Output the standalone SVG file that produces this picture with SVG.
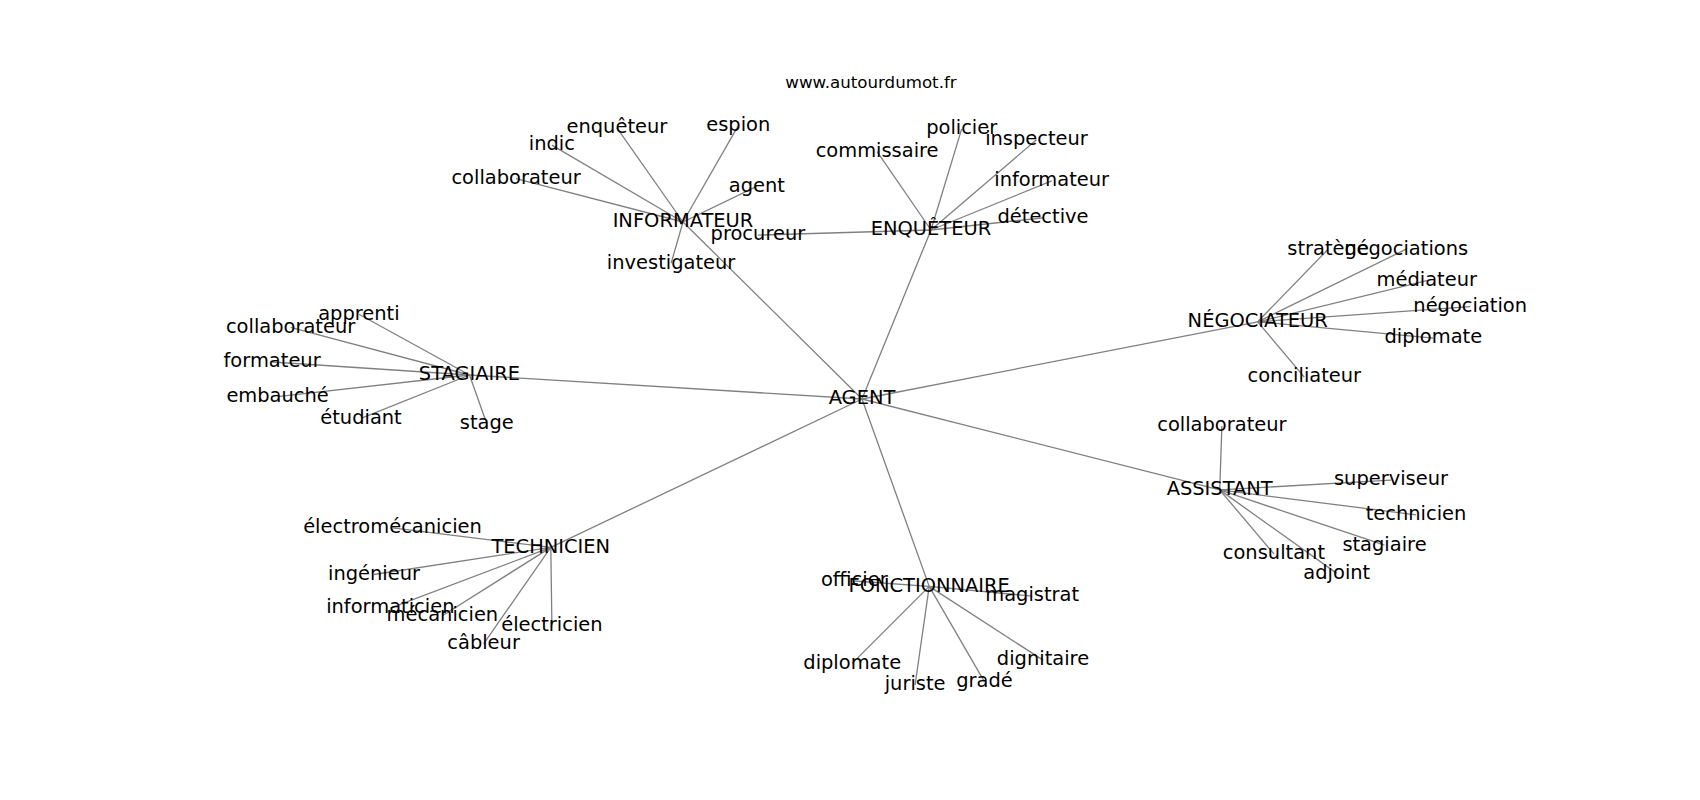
<svg xmlns="http://www.w3.org/2000/svg" width="1700" height="800" viewBox="0 0 1700 800">
<style>
  text { font-family: "DejaVu Sans", "Noto Sans", sans-serif; fill: #000; text-anchor: middle; }
  .lbl { font-size: 19.44px; }
  .title { font-size: 16.67px; }
  .edges line { stroke: #808080; stroke-width: 1.3; fill: none; }
</style>
<rect width="1700" height="800" fill="#fff"/>
<text class="title" x="871" y="88">www.autourdumot.fr</text>
<g id="connectors" class="edges">
  <line x1="862" y1="399" x2="683" y2="222"/>
  <line x1="862" y1="399" x2="931" y2="230"/>
  <line x1="862" y1="399" x2="469.5" y2="375"/>
  <line x1="862" y1="399" x2="1257.7" y2="321.8"/>
  <line x1="862" y1="399" x2="1219.7" y2="489.9"/>
  <line x1="862" y1="399" x2="550.8" y2="547.4"/>
  <line x1="862" y1="399" x2="929.2" y2="586.4"/>
  <line x1="683" y1="222" x2="616.9" y2="127.8"/>
  <line x1="683" y1="222" x2="738.3" y2="125.6"/>
  <line x1="683" y1="222" x2="551.9" y2="145.1"/>
  <line x1="683" y1="222" x2="516.1" y2="178.7"/>
  <line x1="683" y1="222" x2="756.8" y2="186.3"/>
  <line x1="683" y1="222" x2="671.1" y2="263.3"/>
  <line x1="931" y1="230" x2="757.9" y2="235.1"/>
  <line x1="931" y1="230" x2="877.1" y2="151.6"/>
  <line x1="931" y1="230" x2="961.7" y2="128.9"/>
  <line x1="931" y1="230" x2="1036.5" y2="139.7"/>
  <line x1="931" y1="230" x2="1051.7" y2="180.9"/>
  <line x1="931" y1="230" x2="1043" y2="217.8"/>
  <line x1="469.5" y1="375" x2="358.9" y2="314.2"/>
  <line x1="469.5" y1="375" x2="290.6" y2="327.3"/>
  <line x1="469.5" y1="375" x2="272.1" y2="362"/>
  <line x1="469.5" y1="375" x2="277.6" y2="396.6"/>
  <line x1="469.5" y1="375" x2="361" y2="418.3"/>
  <line x1="469.5" y1="375" x2="486.8" y2="423.8"/>
  <line x1="1257.7" y1="321.8" x2="1328.1" y2="249.2"/>
  <line x1="1257.7" y1="321.8" x2="1406.2" y2="249.2"/>
  <line x1="1257.7" y1="321.8" x2="1426.8" y2="280.6"/>
  <line x1="1257.7" y1="321.8" x2="1470.2" y2="306.7"/>
  <line x1="1257.7" y1="321.8" x2="1433.3" y2="338.1"/>
  <line x1="1257.7" y1="321.8" x2="1304.3" y2="377.1"/>
  <line x1="1219.7" y1="489.9" x2="1221.9" y2="425.9"/>
  <line x1="1219.7" y1="489.9" x2="1391" y2="480.1"/>
  <line x1="1219.7" y1="489.9" x2="1416" y2="514.8"/>
  <line x1="1219.7" y1="489.9" x2="1384.5" y2="545.2"/>
  <line x1="1219.7" y1="489.9" x2="1273.9" y2="553.9"/>
  <line x1="1219.7" y1="489.9" x2="1336.8" y2="573.4"/>
  <line x1="550.8" y1="547.4" x2="392.5" y2="527.8"/>
  <line x1="550.8" y1="547.4" x2="374" y2="574.5"/>
  <line x1="550.8" y1="547.4" x2="390.3" y2="608.1"/>
  <line x1="550.8" y1="547.4" x2="442.4" y2="615.7"/>
  <line x1="550.8" y1="547.4" x2="551.9" y2="625.4"/>
  <line x1="550.8" y1="547.4" x2="483.6" y2="643.8"/>
  <line x1="929.2" y1="586.4" x2="854.3" y2="581"/>
  <line x1="929.2" y1="586.4" x2="1032.2" y2="596.1"/>
  <line x1="929.2" y1="586.4" x2="852.2" y2="663.4"/>
  <line x1="929.2" y1="586.4" x2="915.1" y2="685"/>
  <line x1="929.2" y1="586.4" x2="984.5" y2="681.8"/>
  <line x1="929.2" y1="586.4" x2="1043" y2="660.1"/>
</g>
<g id="n-agent"><text class="lbl" x="862" y="404.3">AGENT</text></g>
<g id="n-informateur"><text class="lbl" x="683" y="227.4">INFORMATEUR</text></g>
<g id="n-informateur-enqueteur"><text class="lbl" x="616.9" y="133.1">enquêteur</text></g>
<g id="n-informateur-espion"><text class="lbl" x="738.3" y="130.9">espion</text></g>
<g id="n-informateur-indic"><text class="lbl" x="551.9" y="150.4">indic</text></g>
<g id="n-informateur-collaborateur"><text class="lbl" x="516.1" y="184">collaborateur</text></g>
<g id="n-informateur-agent"><text class="lbl" x="756.8" y="191.6">agent</text></g>
<g id="n-informateur-investigateur"><text class="lbl" x="671.1" y="268.6">investigateur</text></g>
<g id="n-enqueteur"><text class="lbl" x="931" y="235.3">ENQUÊTEUR</text></g>
<g id="n-enqueteur-procureur"><text class="lbl" x="757.9" y="240.4">procureur</text></g>
<g id="n-enqueteur-commissaire"><text class="lbl" x="877.1" y="156.9">commissaire</text></g>
<g id="n-enqueteur-policier"><text class="lbl" x="961.7" y="134.2">policier</text></g>
<g id="n-enqueteur-inspecteur"><text class="lbl" x="1036.5" y="145">inspecteur</text></g>
<g id="n-enqueteur-informateur"><text class="lbl" x="1051.7" y="186.2">informateur</text></g>
<g id="n-enqueteur-detective"><text class="lbl" x="1043" y="223.1">détective</text></g>
<g id="n-stagiaire"><text class="lbl" x="469.5" y="380.3">STAGIAIRE</text></g>
<g id="n-stagiaire-apprenti"><text class="lbl" x="358.9" y="319.5">apprenti</text></g>
<g id="n-stagiaire-collaborateur"><text class="lbl" x="290.6" y="332.6">collaborateur</text></g>
<g id="n-stagiaire-formateur"><text class="lbl" x="272.1" y="367.3">formateur</text></g>
<g id="n-stagiaire-embauche"><text class="lbl" x="277.6" y="401.9">embauché</text></g>
<g id="n-stagiaire-etudiant"><text class="lbl" x="361" y="423.6">étudiant</text></g>
<g id="n-stagiaire-stage"><text class="lbl" x="486.8" y="429.1">stage</text></g>
<g id="n-negociateur"><text class="lbl" x="1257.7" y="327.1">NÉGOCIATEUR</text></g>
<g id="n-negociateur-stratege"><text class="lbl" x="1328.1" y="254.5">stratège</text></g>
<g id="n-negociateur-negociations"><text class="lbl" x="1406.2" y="254.5">négociations</text></g>
<g id="n-negociateur-mediateur"><text class="lbl" x="1426.8" y="285.9">médiateur</text></g>
<g id="n-negociateur-negociation"><text class="lbl" x="1470.2" y="312">négociation</text></g>
<g id="n-negociateur-diplomate"><text class="lbl" x="1433.3" y="343.4">diplomate</text></g>
<g id="n-negociateur-conciliateur"><text class="lbl" x="1304.3" y="382.4">conciliateur</text></g>
<g id="n-assistant"><text class="lbl" x="1219.7" y="495.2">ASSISTANT</text></g>
<g id="n-assistant-collaborateur"><text class="lbl" x="1221.9" y="431.2">collaborateur</text></g>
<g id="n-assistant-superviseur"><text class="lbl" x="1391" y="485.4">superviseur</text></g>
<g id="n-assistant-technicien"><text class="lbl" x="1416" y="520.1">technicien</text></g>
<g id="n-assistant-stagiaire"><text class="lbl" x="1384.5" y="550.5">stagiaire</text></g>
<g id="n-assistant-consultant"><text class="lbl" x="1273.9" y="559.2">consultant</text></g>
<g id="n-assistant-adjoint"><text class="lbl" x="1336.8" y="578.7">adjoint</text></g>
<g id="n-technicien"><text class="lbl" x="550.8" y="552.7">TECHNICIEN</text></g>
<g id="n-technicien-electromecanicien"><text class="lbl" x="392.5" y="533.1">électromécanicien</text></g>
<g id="n-technicien-ingenieur"><text class="lbl" x="374" y="579.8">ingénieur</text></g>
<g id="n-technicien-informaticien"><text class="lbl" x="390.3" y="613.4">informaticien</text></g>
<g id="n-technicien-mecanicien"><text class="lbl" x="442.4" y="621">mécanicien</text></g>
<g id="n-technicien-electricien"><text class="lbl" x="551.9" y="630.7">électricien</text></g>
<g id="n-technicien-cableur"><text class="lbl" x="483.6" y="649.1">câbleur</text></g>
<g id="n-fonctionnaire"><text class="lbl" x="929.2" y="591.7">FONCTIONNAIRE</text></g>
<g id="n-fonctionnaire-officier"><text class="lbl" x="854.3" y="586.3">officier</text></g>
<g id="n-fonctionnaire-magistrat"><text class="lbl" x="1032.2" y="601.4">magistrat</text></g>
<g id="n-fonctionnaire-diplomate"><text class="lbl" x="852.2" y="668.7">diplomate</text></g>
<g id="n-fonctionnaire-juriste"><text class="lbl" x="915.1" y="690.3">juriste</text></g>
<g id="n-fonctionnaire-grade"><text class="lbl" x="984.5" y="687.1">gradé</text></g>
<g id="n-fonctionnaire-dignitaire"><text class="lbl" x="1043" y="665.4">dignitaire</text></g>
</svg>
